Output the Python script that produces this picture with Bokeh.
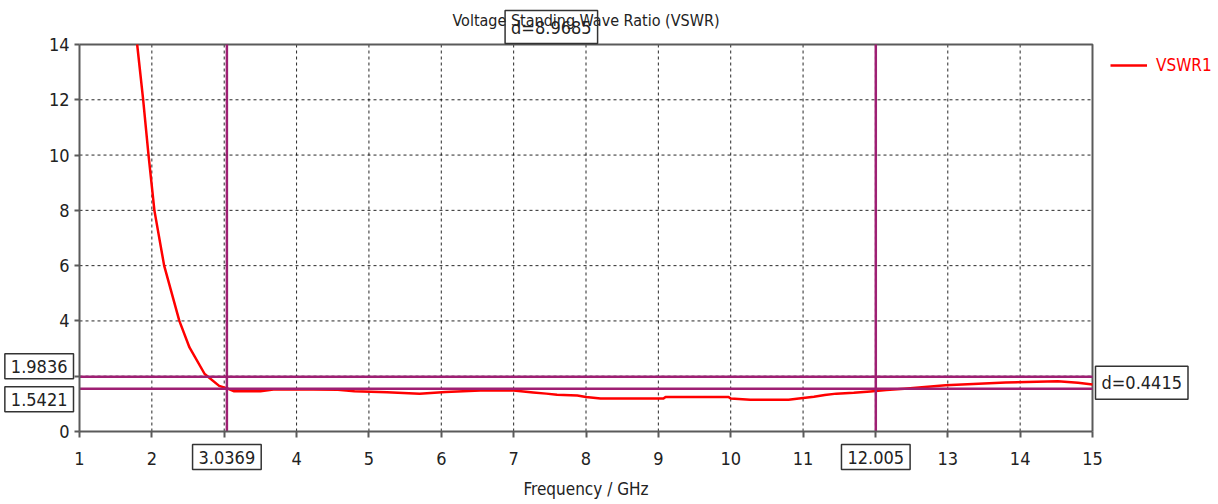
from bokeh.plotting import figure
from bokeh.models import Label, Legend, LegendItem, FixedTicker, Range1d
from bokeh.embed import file_html
from bokeh.resources import INLINE

# VSWR of port 1 versus frequency
freq_ghz = [1.797, 1.88, 1.954, 2.035, 2.17, 2.38, 2.52, 2.73, 2.93, 3.04,
            3.13, 3.50, 3.68, 4.23, 4.57, 4.80, 5.25, 5.70, 6.06, 6.54, 7.00,
            7.27, 7.45, 7.60, 7.88, 8.00, 8.20, 9.07, 9.10, 9.97, 10.00, 10.27,
            10.80, 10.97, 11.15, 11.30, 11.46, 11.70, 11.93, 12.15, 12.40,
            12.60, 12.97, 13.35, 13.80, 14.52, 14.80, 15.00]
vswr = [14.0, 12.0, 10.0, 8.0, 6.0, 4.0, 3.04, 2.08, 1.65, 1.56,
        1.46, 1.46, 1.52, 1.52, 1.51, 1.46, 1.42, 1.37, 1.43, 1.48, 1.48,
        1.41, 1.37, 1.33, 1.30, 1.25, 1.19, 1.19, 1.25, 1.25, 1.19, 1.15,
        1.15, 1.20, 1.26, 1.32, 1.37, 1.40, 1.45, 1.50, 1.55,
        1.59, 1.67, 1.72, 1.77, 1.82, 1.76, 1.70]

# bandwidth markers (GHz) and VSWR level markers
marker_freqs = [3.0369, 12.005]
marker_levels = [1.9836, 1.5421]
delta_freq_text = "d=8.9685"
delta_level_text = "d=0.4415"

x_ticks = list(range(1, 16))
y_ticks = list(range(0, 15, 2))

W, H = 1218, 504
# plot area inside the canvas (pixels from the canvas edges)
LEFT, RIGHT, TOP, BOTTOM = 79, 126, 44, 73

x0, x1 = x_ticks[0], x_ticks[-1]
y0, y1 = y_ticks[0], y_ticks[-1]
px_x = (W - LEFT - RIGHT) / (x1 - x0)
px_y = (H - TOP - BOTTOM) / (y1 - y0)

FONT = "'DejaVu Sans Condensed', 'Liberation Sans', sans-serif"
MARK = "#9E1F73"
AXIS = "#5a5a5a"
INK = "#222222"

# the frame covers the whole canvas so that readout boxes around the
# plot area are drawn as well; axes are pinned to the plot area edges
p = figure(width=W, height=H,
           x_range=Range1d(x0 - LEFT / px_x, x1 + RIGHT / px_x),
           y_range=Range1d(y0 - BOTTOM / px_y, y1 + TOP / px_y),
           output_backend="svg", toolbar_location=None, min_border=0)
p.title.visible = False
p.outline_line_color = None
p.xgrid.visible = False
p.ygrid.visible = False

p.xaxis.fixed_location = y0
p.yaxis.fixed_location = x0
p.xaxis.bounds = (x0, x1)
p.yaxis.bounds = (y0, y1)
p.xaxis.ticker = FixedTicker(ticks=x_ticks)
p.yaxis.ticker = FixedTicker(ticks=y_ticks)
p.xaxis.axis_label = "Frequency / GHz"
p.xaxis.axis_label_text_font = FONT
p.xaxis.axis_label_text_font_size = "17px"
p.xaxis.axis_label_text_font_style = "normal"
p.xaxis.axis_label_text_color = INK
p.xaxis.axis_label_standoff = 11

for ax in (p.xaxis, p.yaxis):
    ax.axis_line_color = AXIS
    ax.axis_line_width = 2
    ax.major_tick_line_color = AXIS
    ax.major_tick_line_width = 2
    ax.major_tick_in = 0
    ax.minor_tick_line_color = None
    ax.major_label_text_font = FONT
    ax.major_label_text_font_size = "18px"
    ax.major_label_text_color = INK

p.xaxis.major_tick_out = 6
p.xaxis.major_label_standoff = 14
p.yaxis.major_tick_out = 5
p.yaxis.major_label_standoff = 5

# tick labels sitting under the marker boxes
p.xaxis.major_label_overrides = {3: "", 12: ""}
p.yaxis.major_label_overrides = {2: ""}

# dashed grid inside the plot area
gx = x_ticks[1:-1]
gy = y_ticks[1:-1]
p.segment(x0=gx, y0=[y0] * len(gx), x1=gx, y1=[y1] * len(gx),
          line_color="black", line_dash="3 3", line_width=1, line_alpha=0.85)
p.segment(x0=[x0] * len(gy), y0=gy, x1=[x1] * len(gy), y1=gy,
          line_color="black", line_dash="3 3", line_width=1, line_alpha=0.85)

# top and right border of the plot area
p.line([x0, x1, x1], [y1, y1, y0], line_color=AXIS, line_width=2)

curve = p.line(freq_ghz, vswr, line_color="#FF0000", line_width=2.5,
               line_join="round")

# marker lines
p.segment(x0=marker_freqs, y0=[y0] * 2, x1=marker_freqs, y1=[y1] * 2,
          line_color=MARK, line_width=2.5)
p.segment(x0=[x0] * 2, y0=marker_levels, x1=[x1] * 2, y1=marker_levels,
          line_color=MARK, line_width=2.5)

p.add_layout(Label(x=(x0 + x1) / 2, y=y1, text="Voltage Standing Wave Ratio (VSWR)",
                   text_align="center", text_baseline="middle", y_offset=24,
                   text_font=FONT, text_font_size="16px", text_color=INK))


def box_label(x, y, text, align, baseline, x_off=0, y_off=0, fill="white"):
    p.add_layout(Label(x=x, y=y, text=text, text_align=align,
                       text_baseline=baseline, x_offset=x_off, y_offset=y_off,
                       text_font=FONT, text_font_size="18px", text_color=INK,
                       border_line_color="#333333", border_line_width=1.5,
                       background_fill_color=fill, padding=6))


def fmt(v):
    return f"{v:.5g}"


# frequency marker readouts below the axis
for f in marker_freqs:
    box_label(f, y0, fmt(f), "center", "top", y_off=-13)

# level marker readouts left of the axis
box_label(x0, marker_levels[0], fmt(marker_levels[0]), "right", "bottom",
          x_off=-6, y_off=-2)
box_label(x0, marker_levels[1], fmt(marker_levels[1]), "right", "top",
          x_off=-6, y_off=2)

# differences between the markers
box_label((marker_freqs[0] + marker_freqs[1]) / 2, y1, delta_freq_text,
          "center", "bottom", y_off=1, fill=None)
box_label(x1, (marker_levels[0] + marker_levels[1]) / 2, delta_level_text,
          "left", "middle", x_off=3)

legend = Legend(items=[LegendItem(label="VSWR1", renderers=[curve])],
                location=(1110, H - 75), glyph_width=37, glyph_height=20,
                label_standoff=9, padding=0, margin=0, spacing=0,
                border_line_color=None, background_fill_alpha=0,
                label_text_color="#FF0000", label_text_font=FONT,
                label_text_font_size="17px")
p.add_layout(legend)

open("out.html", "w").write(file_html(p, INLINE))
